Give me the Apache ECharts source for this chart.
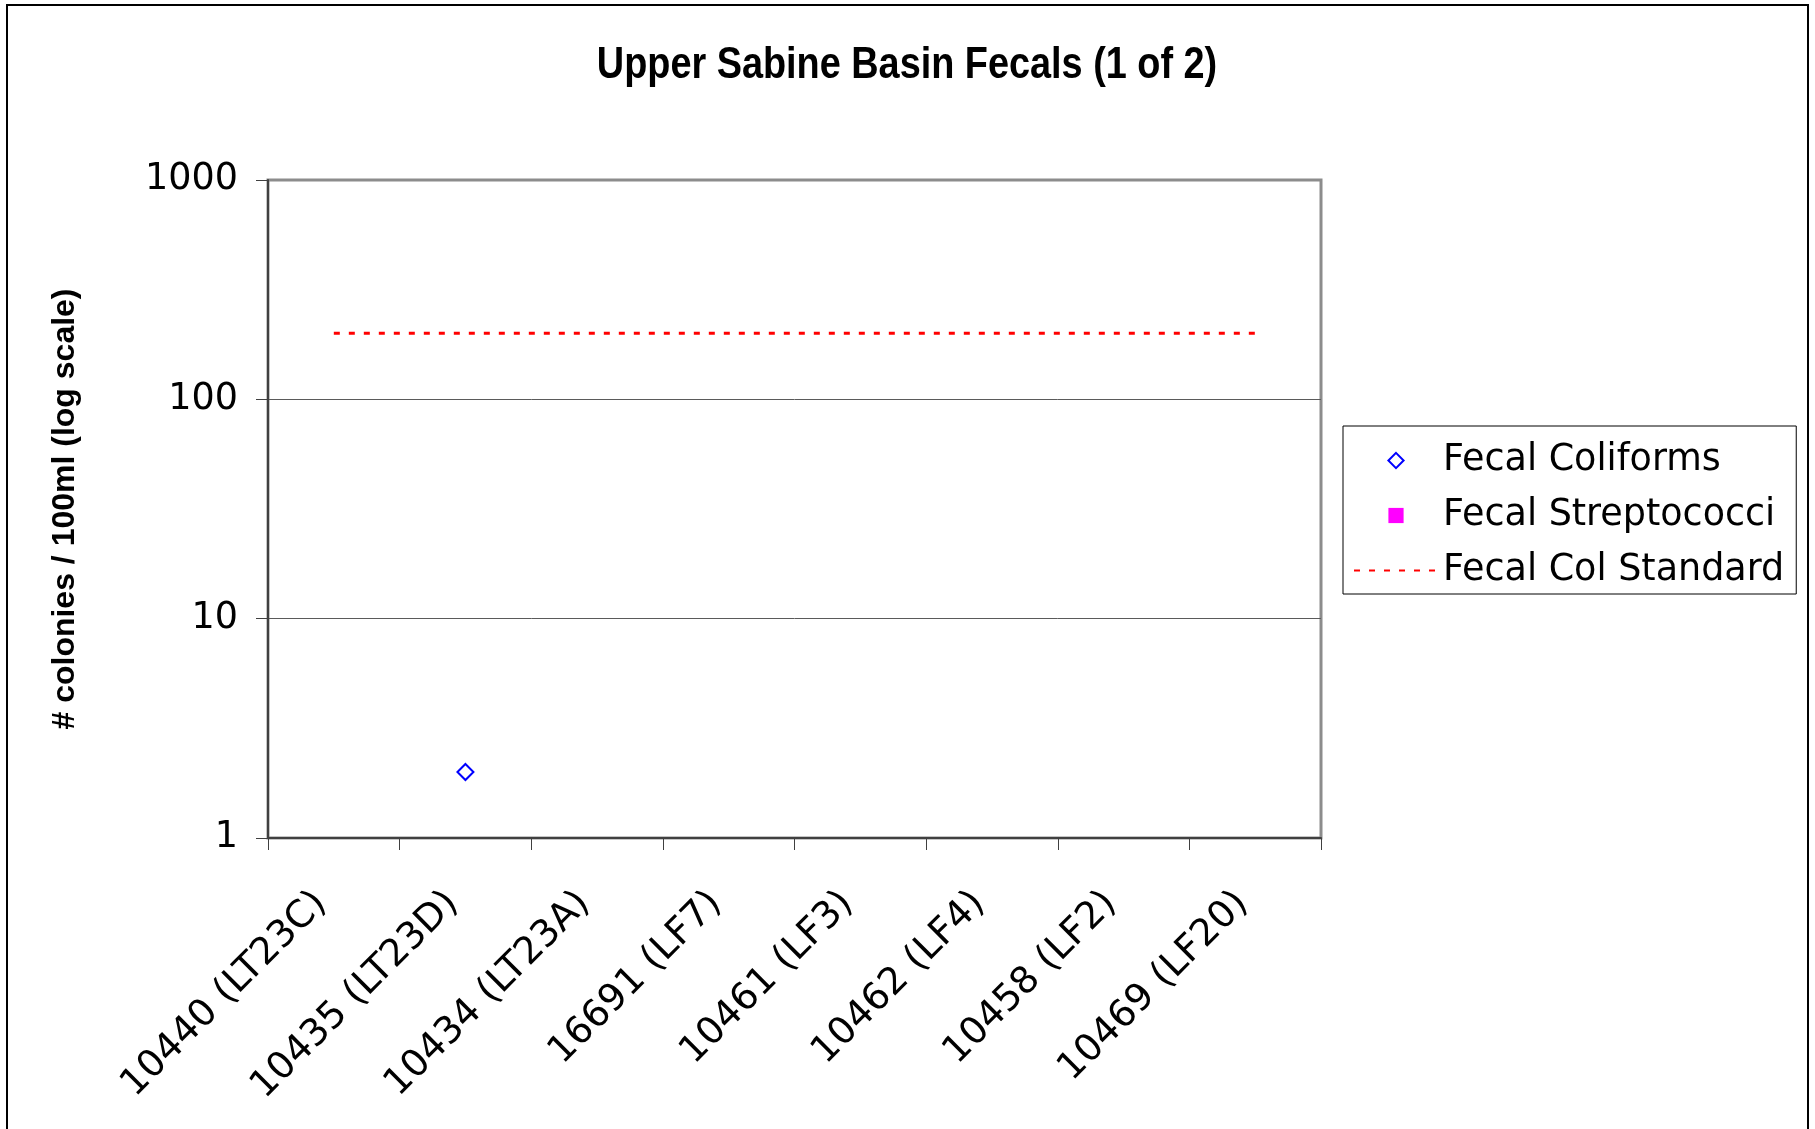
<!DOCTYPE html>
<html>
<head>
<meta charset="utf-8">
<title>Upper Sabine Basin Fecals (1 of 2)</title>
<script src="https://cdn.jsdelivr.net/npm/echarts@6/dist/echarts.min.js"></script>
<style>
  html, body { margin: 0; padding: 0; background: #fff; }
  #main { width: 1815px; height: 1129px; }
</style>
</head>
<body>
<div id="main"></div>
<script>
// stations along the x axis
let stations = ['10440 (LT23C)', '10435 (LT23D)', '10434 (LT23A)', '16691 (LF7)',
                '10461 (LF3)', '10462 (LF4)', '10458 (LF2)', '10469 (LF20)'];
// colonies / 100ml, null = no sample
let fecalColiforms = [null, 2, null, null, null, null, null, null];
let fecalStrep = [null, null, null, null, null, null, null, null];
let fecalColStandard = [200, 200, 200, 200, 200, 200, 200, 200];

let axisFont = 'DejaVu Sans';
let boldFont = '"Liberation Sans", Arial, sans-serif';

let myChart = echarts.init(document.getElementById('main'));

let option = {
    backgroundColor: '#fff',
    animation: false,
    graphic: [
        {
            // outer frame, bottom edge runs off the page
            type: 'rect',
            shape: { x: 7, y: 5, width: 1801, height: 1150 },
            style: { fill: 'none', stroke: '#000', lineWidth: 2 },
            silent: true
        },
        {
            // title squeezed to look like a narrow bold face
            type: 'text',
            x: 907,
            y: 66,
            scaleX: 0.86,
            style: {
                text: 'Upper Sabine Basin Fecals (1 of 2)',
                x: 0,
                y: 0,
                align: 'center',
                verticalAlign: 'middle',
                font: 'bold 44px ' + boldFont,
                fill: '#000'
            },
            silent: true
        }
    ],
    legend: {
        orient: 'vertical',
        left: 1343,
        top: 426,
        padding: [16, 12, 5, 10],
        itemGap: 18,
        itemWidth: 84,
        itemHeight: 19,
        borderColor: '#000',
        borderWidth: 1,
        backgroundColor: '#fff',
        textStyle: {
            fontFamily: axisFont,
            fontSize: 36.5,
            lineHeight: 37,
            color: '#000'
        },
        data: [
            { name: 'Fecal Coliforms', lineStyle: { opacity: 0 } },
            { name: 'Fecal Streptococci', lineStyle: { opacity: 0 } },
            { name: 'Fecal Col Standard', itemStyle: { opacity: 0 } }
        ]
    },
    grid: {
        left: 268,
        right: 494,
        top: 180,
        bottom: 291,
        show: true,
        borderColor: '#8c8c8c',
        borderWidth: 3,
        backgroundColor: '#fff'
    },
    xAxis: {
        type: 'category',
        data: stations,
        boundaryGap: true,
        axisLine: { lineStyle: { color: '#404040', width: 2 } },
        axisTick: {
            show: true,
            inside: false,
            length: 12,
            interval: 0,
            lineStyle: { color: '#404040', width: 1 }
        },
        axisLabel: {
            interval: 0,
            rotate: 45,
            margin: 47,
            padding: [0, 18, 0, 0],
            fontFamily: axisFont,
            fontSize: 37.5,
            color: '#000'
        },
        splitLine: { show: false }
    },
    yAxis: {
        type: 'log',
        logBase: 10,
        min: 1,
        max: 1000,
        name: '# colonies / 100ml (log scale)',
        nameLocation: 'middle',
        nameGap: 187,
        nameTextStyle: {
            fontFamily: boldFont,
            fontWeight: 'bold',
            fontSize: 32,
            color: '#000'
        },
        axisLine: { show: true, lineStyle: { color: '#404040', width: 2 } },
        axisTick: {
            show: true,
            inside: false,
            length: 12,
            lineStyle: { color: '#404040', width: 1 }
        },
        axisLabel: {
            margin: 30,
            fontFamily: axisFont,
            fontSize: 36.5,
            color: '#000',
            formatter: function (v) { return String(Math.round(v)); }
        },
        splitLine: {
            show: true,
            showMinLine: false,
            showMaxLine: false,
            lineStyle: { color: '#5a5a5a', width: 1 }
        }
    },
    series: [
        {
            name: 'Fecal Coliforms',
            type: 'line',
            data: fecalColiforms,
            symbol: 'emptyDiamond',
            symbolSize: 16,
            showAllSymbol: true,
            connectNulls: false,
            itemStyle: { color: '#0000ff', borderWidth: 2.5 },
            lineStyle: { opacity: 0 },
            z: 5
        },
        {
            name: 'Fecal Streptococci',
            type: 'line',
            data: fecalStrep,
            symbol: 'rect',
            symbolSize: 15,
            itemStyle: { color: '#ff00ff' },
            lineStyle: { opacity: 0 }
        },
        {
            name: 'Fecal Col Standard',
            type: 'line',
            data: fecalColStandard,
            symbol: 'circle',
            showSymbol: false,
            itemStyle: { color: '#ff0000' },
            lineStyle: { color: '#ff0000', width: 3, type: [6, 9] }
        }
    ]
};

myChart.setOption(option);
</script>
</body>
</html>
